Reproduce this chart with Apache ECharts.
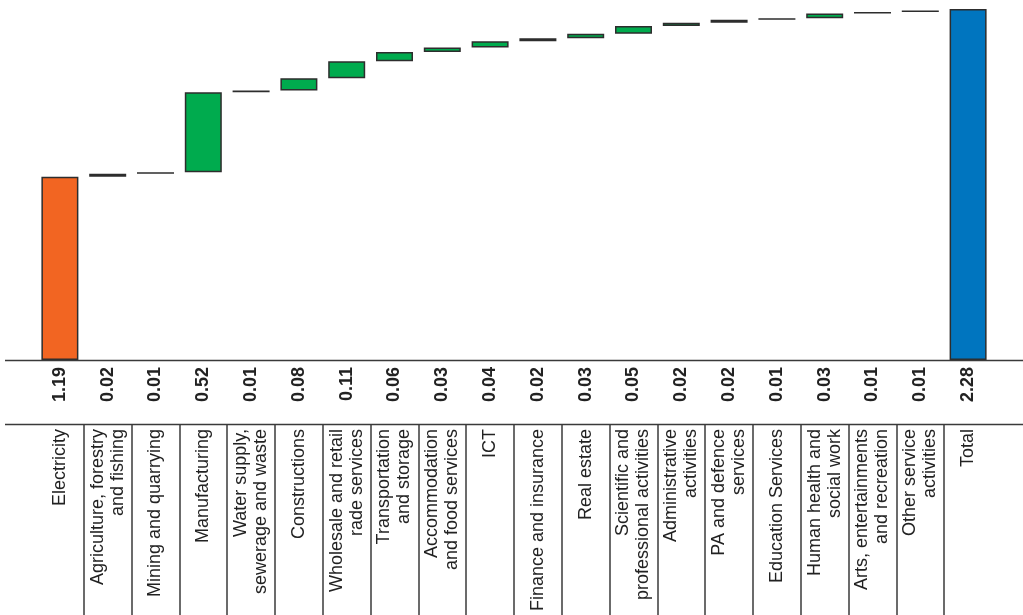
<!DOCTYPE html>
<html>
<head>
<meta charset="utf-8">
<script src="https://cdn.jsdelivr.net/npm/echarts@6/dist/echarts.min.js"></script>
<style>
  html, body { margin: 0; padding: 0; background: #fff; }
  #chart { width: 1023px; height: 615px; }
</style>
</head>
<body>
<div id="chart"></div>
<script>
// Sector contributions, in order, ending with the overall total
const categories = [
  'Electricity',
  'Agriculture, forestry\nand fishing',
  'Mining and quarrying',
  'Manufacturing',
  'Water supply,\nsewerage and waste',
  'Constructions',
  'Wholesale and retail\nrade services',
  'Transportation\nand storage',
  'Accommodation\nand food services',
  'ICT',
  'Finance and insurance',
  'Real estate',
  'Scientific and\nprofessional activities',
  'Administrative\nactivities',
  'PA and defence\nservices',
  'Education Services',
  'Human health and\nsocial work',
  'Arts, entertainments\nand recreation',
  'Other service\nactivities',
  'Total'
];
const values = [1.19, 0.02, 0.01, 0.52, 0.01, 0.08, 0.11, 0.06, 0.03, 0.04,
                0.02, 0.03, 0.05, 0.02, 0.02, 0.01, 0.03, 0.01, 0.01, 2.28];

const FONT = "'Liberation Sans', Arial, Helvetica, sans-serif";
const ORANGE = '#F26522', GREEN = '#00AB4E', BLUE = '#0075BF';
const lastIdx = values.length - 1;

// Invisible offsets: each step starts where the running sum left off
const bases = [];
let running = 0;
values.forEach((v, i) => {
  if (i === 0 || i === lastIdx) { bases.push(0); }
  else { bases.push(+running.toFixed(4)); }
  if (i !== lastIdx) running += v;
});

const barData = values.map((v, i) => ({
  value: v,
  itemStyle: { color: i === 0 ? ORANGE : (i === lastIdx ? BLUE : GREEN) }
}));

const chart = echarts.init(document.getElementById('chart'), null, { renderer: 'canvas' });

chart.setOption({
  animation: false,
  backgroundColor: '#fff',
  textStyle: { fontFamily: FONT },
  grid: [
    { left: 36, right: 31, top: 9, bottom: 255 },
    { left: 36, right: 31, top: 425, bottom: 0 }
  ],
  xAxis: [
    { // value row directly under the baseline
      type: 'category', gridIndex: 0, data: categories, position: 'bottom',
      axisLine: { show: false }, axisTick: { show: false },
      axisLabel: {
        interval: 0, rotate: 90, margin: 7,
        fontFamily: FONT, fontSize: 18, fontWeight: 'bold', color: '#222',
        formatter: (v, i) => values[i].toFixed(2)
      }
    },
    { // category name row
      type: 'category', gridIndex: 0, data: categories, position: 'bottom', offset: 64,
      axisLine: { show: false }, axisTick: { show: false },
      axisLabel: {
        interval: 0, rotate: 90, margin: 5,
        fontFamily: FONT, fontSize: 18, lineHeight: 20, color: '#222'
      }
    },
    { // column separators in the name row
      type: 'category', gridIndex: 1, data: categories,
      axisLine: { show: false }, axisTick: { show: false }, axisLabel: { show: false },
      splitLine: {
        show: true, interval: 0, showMinLine: false, showMaxLine: false,
        lineStyle: { color: '#3a3a3a', width: 1.5 }
      }
    }
  ],
  yAxis: [
    { type: 'value', gridIndex: 0, min: 0, max: 2.28, show: false, splitLine: { show: false } },
    { type: 'value', gridIndex: 1, show: false, splitLine: { show: false } }
  ],
  graphic: [
    { type: 'line', shape: { x1: 5, y1: 360.5, x2: 1023, y2: 360.5 },
      style: { stroke: '#3a3a3a', lineWidth: 1.5 }, z: 10 },
    { type: 'line', shape: { x1: 5, y1: 424.5, x2: 1023, y2: 424.5 },
      style: { stroke: '#3a3a3a', lineWidth: 1.5 }, z: 10 }
  ],
  series: [
    {
      name: 'base', type: 'bar', stack: 'wf', xAxisIndex: 0, yAxisIndex: 0,
      data: bases, barWidth: 37, silent: true,
      itemStyle: { color: 'transparent', borderWidth: 0 }
    },
    {
      name: 'value', type: 'bar', stack: 'wf', xAxisIndex: 0, yAxisIndex: 0,
      data: barData, barWidth: 37,
      itemStyle: { borderColor: '#2d2d2d', borderWidth: 1.5 }
    }
  ]
});
</script>
</body>
</html>
